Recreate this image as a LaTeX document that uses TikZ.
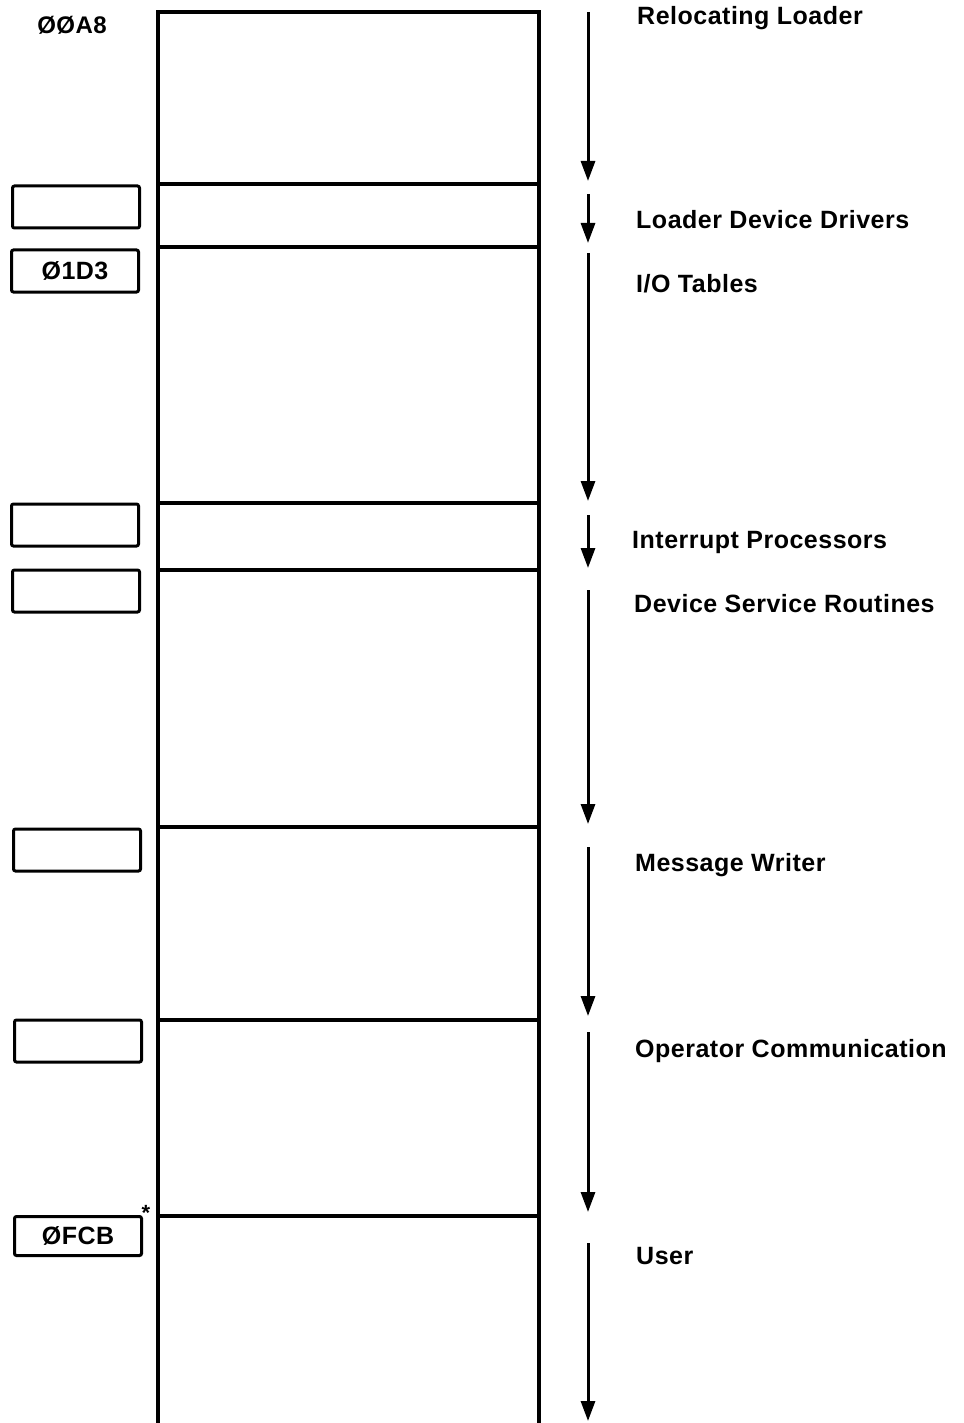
\documentclass[tikz,border=0pt]{standalone}
\usepackage{fontspec}
\setmainfont{Liberation Sans}
\newfontfamily\lblfont[LetterSpace=2]{Liberation Sans}
\usetikzlibrary{arrows.meta}
\begin{document}
\begin{tikzpicture}[x=1pt,y=-1pt,
  lbl/.style={anchor=west,inner sep=0pt,font=\lblfont\bfseries\fontsize{25}{28}\selectfont},
  addr/.style={draw,line width=3pt,rounded corners=2pt,minimum width=127pt,minimum height=42pt,inner sep=0pt,font=\lblfont\bfseries\fontsize{25}{28}\selectfont},
  col/.style={line width=3.2pt},
  flow/.style={line width=3pt,-{Triangle[length=20pt,width=14pt]}}]
\useasboundingbox (0,0) rectangle (963,1423);
% memory column
\draw[col] (158,1423) -- (158,12) -- (539,12) -- (539,1423);
\foreach \y in {184,247,503,570,827,1020,1216}
  \draw[col] (158,\y) -- (539,\y);
% address text and boxes
\node[inner sep=0pt,font=\lblfont\bfseries\fontsize{24}{26}\selectfont] (a0) at (72,25) {ØØA8};
\node[addr] (b1) at (76,207) {};
\node[addr] (b2) at (75,271) {Ø1D3};
\node[addr] (b3) at (75,525) {};
\node[addr] (b4) at (76,591) {};
\node[addr] (b5) at (77,850) {};
\node[addr] (b6) at (78,1041) {};
\node[addr,minimum height=39pt] (b7) at (78,1236) {ØFCB};
\node[inner sep=0pt,font=\bfseries\fontsize{22}{22}\selectfont] (ast) at (146,1213) {*};
% arrows
\foreach \n/\a/\b in {1/12/181,2/194/243,3/253/501,4/515/568,5/590/824,6/847/1016,7/1032/1212,8/1243/1421}{
  \coordinate (s\n) at (588,\a);
  \coordinate (e\n) at (588,\b);
  \draw[flow] (s\n) -- (e\n);
}
% labels
\node[lbl] (l1) at (637,18) {Relocating Loader};
\node[lbl] (l2) at (636,220) {Loader Device Drivers};
\node[lbl] (l3) at (636,284) {I/O Tables};
\node[lbl] (l4) at (632,542) {Interrupt Processors};
\node[lbl] (l5) at (634,604) {Device Service Routines};
\node[lbl] (l6) at (635,865) {Message Writer};
\node[lbl] (l7) at (635,1051) {Operator Communication};
\node[lbl] (l8) at (636,1256) {User};
\end{tikzpicture}
\end{document}
